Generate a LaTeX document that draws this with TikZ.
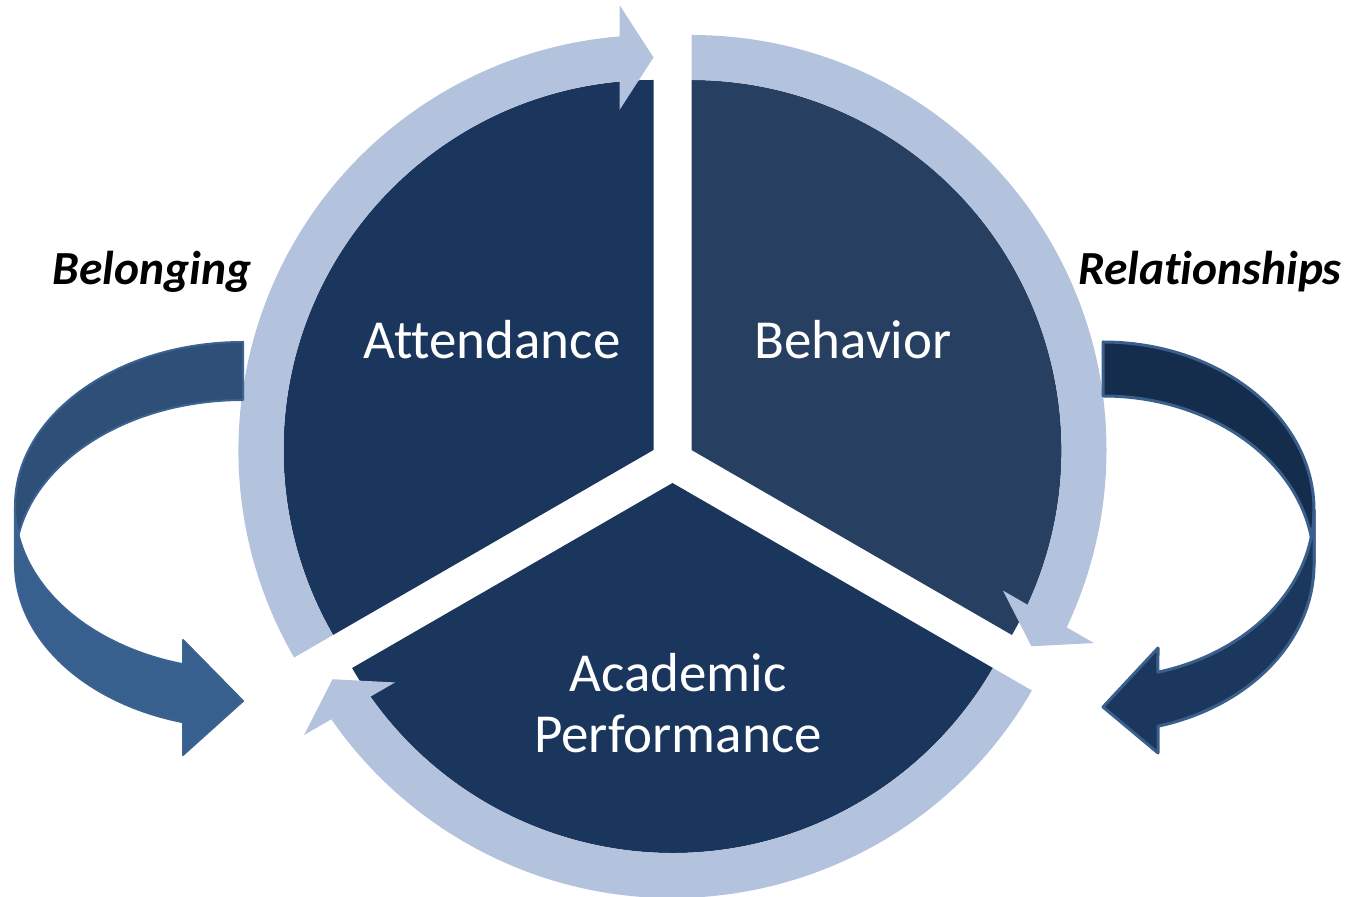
\documentclass[tikz,border=0pt]{standalone}
\usepackage{fontspec}
\setmainfont{Carlito}[Ligatures=NoCommon]
\usetikzlibrary{calc}
\definecolor{secdark}{RGB}{27,54,93}
\definecolor{secmid}{RGB}{39,63,97}
\definecolor{ringblue}{RGB}{179,194,221}
\definecolor{lback}{RGB}{46,79,120}
\definecolor{lfront}{RGB}{56,96,142}
\definecolor{lline}{RGB}{60,98,146}
\definecolor{rback}{RGB}{20,45,76}
\definecolor{rfront}{RGB}{27,55,94}
\definecolor{rline}{RGB}{58,95,140}
\tikzset{
  sector/.style={fill=secdark},
  sectorb/.style={fill=secmid},
  ring/.style={fill=ringblue},
  seclabel/.style={text=white,font=\fontsize{55}{61}\selectfont,align=center,inner sep=0pt},
  sidelabel/.style={text=black,font=\fontsize{47.5}{52}\selectfont\bfseries\itshape,inner sep=0pt}
}
\begin{document}
\begin{tikzpicture}[x=1pt,y=1pt]
\useasboundingbox (0,0) rectangle (1350,897);
\coordinate (A) at (653.5,447);
\coordinate (B) at (691.5,447);
\coordinate (C) at (672.5,414);
% sectors
\fill[sector] (A) -- ++(90:370) arc[start angle=90,end angle=210,radius=370] -- cycle;
\fill[sectorb] (B) -- ++(-30:370) arc[start angle=-30,end angle=90,radius=370] -- cycle;
\fill[sector] (C) -- ++(210:370) arc[start angle=210,end angle=330,radius=370] -- cycle;
% ring arrows: Attendance
\fill[ring] ($(A)+(210:415)$) arc[start angle=210,end angle=94.5,radius=415]
  -- ($(A)+(94.5:370)$) arc[start angle=94.5,end angle=210,radius=370] -- cycle;
\fill[ring] ($(A)+(90:392.5)$) -- ($(A)+(90:392.5)+(180:34)+(90:52.5)$)
  -- ($(A)+(90:392.5)+(180:34)-(90:52.5)$) -- cycle;
% Behavior
\fill[ring] ($(B)+(90:415)$) arc[start angle=90,end angle=-25.5,radius=415]
  -- ($(B)+(-25.5:370)$) arc[start angle=-25.5,end angle=90,radius=370] -- cycle;
\fill[ring] ($(B)+(-30:392.5)$) -- ($(B)+(-30:392.5)+(60:34)+(-30:52.5)$)
  -- ($(B)+(-30:392.5)+(60:34)-(-30:52.5)$) -- cycle;
% Academic
\fill[ring] ($(C)+(330:415)$) arc[start angle=330,end angle=214.5,radius=415]
  -- ($(C)+(214.5:370)$) arc[start angle=214.5,end angle=330,radius=370] -- cycle;
\fill[ring] ($(C)+(210:392.5)$) -- ($(C)+(210:392.5)+(300:34)+(210:52.5)$)
  -- ($(C)+(210:392.5)+(300:34)-(210:52.5)$) -- cycle;
% left curved arrow (Belonging)
\filldraw[fill=lback,draw=lline,line width=2pt,line join=round]
  (243,555) arc[start angle=90,end angle=180,x radius=228,y radius=164]
  -- (15,333) arc[start angle=180,end angle=90,x radius=228,y radius=164] -- cycle;
\filldraw[fill=lfront,draw=lline,line width=2pt,line join=round]
  (15,391) arc[start angle=180,end angle=254.75,x radius=228,y radius=164]
  -- (183,257) -- (243,196) -- (183,142) -- (183,174.8)
  arc[start angle=254.75,end angle=180,x radius=228,y radius=164] -- cycle;
% right curved arrow (Relationships)
\filldraw[fill=rback,draw=rline,line width=3pt,line join=round]
  (1103,555) arc[start angle=90,end angle=0,x radius=211,y radius=168]
  -- (1314,333) arc[start angle=0,end angle=90,x radius=211,y radius=168] -- cycle;
\filldraw[fill=rfront,draw=rline,line width=3pt,line join=round]
  (1314,387) arc[start angle=360,end angle=285.1,x radius=211,y radius=168]
  -- (1158,249) -- (1103,190) -- (1158,144) -- (1158,170.8)
  arc[start angle=285.1,end angle=360,x radius=211,y radius=168] -- cycle;
% labels
\node[seclabel] (att) at (492,557) {Attendance};
\node[seclabel] (beh) at (853,557) {Behavior};
\node[seclabel] (acad) at (678,194) {Academic\\Performance};
\node[sidelabel] (bel) at (152,625) {Belonging};
\node[sidelabel] (rel) at (1210,625) {Relationships};
\end{tikzpicture}
\end{document}
